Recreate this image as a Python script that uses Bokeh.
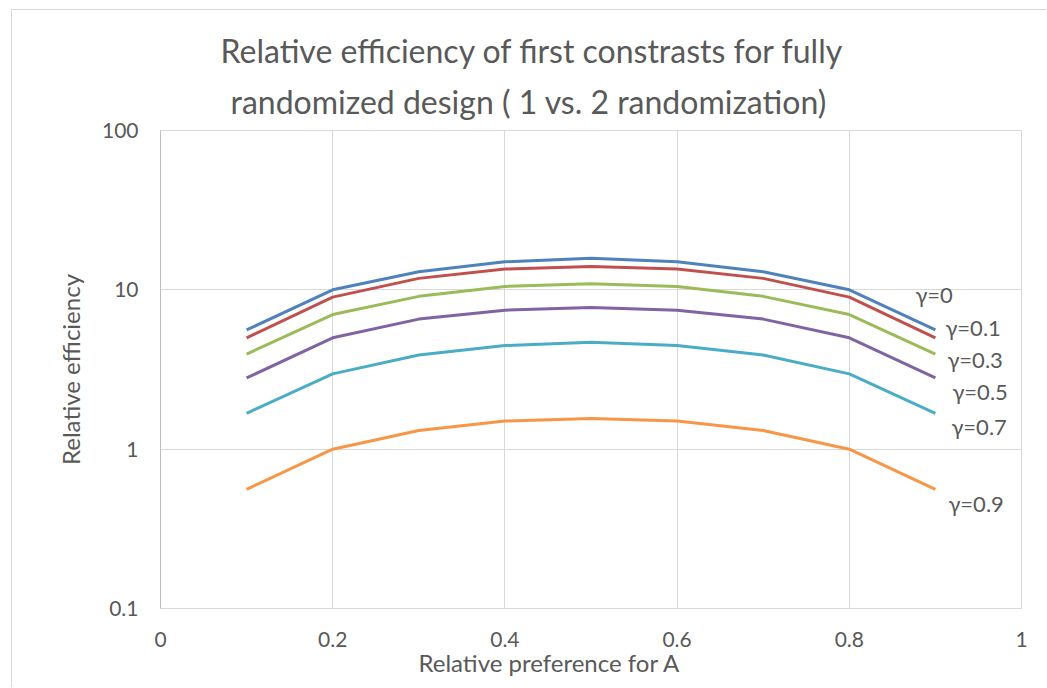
from bokeh.plotting import figure
from bokeh.models import ColumnDataSource, FixedTicker, CustomJSTickFormatter, Title
from bokeh.core.properties import value
from bokeh.embed import file_html
from bokeh.resources import INLINE

# ---- data ----
x_pref = [0.1, 0.2, 0.3, 0.4, 0.5, 0.6, 0.7, 0.8, 0.9]
gamma_labels = ["γ=0", "γ=0.1", "γ=0.3", "γ=0.5", "γ=0.7", "γ=0.9"]
eff_g00 = [5.6, 10.0, 13.0, 15.0, 15.8, 15.0, 13.0, 10.0, 5.6]
eff_g01 = [5.0, 9.0, 11.8, 13.5, 14.0, 13.5, 11.8, 9.0, 5.0]
eff_g03 = [3.95, 7.0, 9.1, 10.5, 10.9, 10.5, 9.1, 7.0, 3.95]
eff_g05 = [2.8, 5.0, 6.55, 7.45, 7.75, 7.45, 6.55, 5.0, 2.8]
eff_g07 = [1.68, 2.97, 3.9, 4.47, 4.69, 4.47, 3.9, 2.97, 1.68]
eff_g09 = [0.56, 1.0, 1.31, 1.5, 1.56, 1.5, 1.31, 1.0, 0.56]
x_ticks = [0, 0.2, 0.4, 0.6, 0.8, 1]
y_ticks = [0.1, 1, 10, 100]
title_lines = ["Relative efficiency of first constrasts for fully",
               "randomized design ( 1 vs. 2 randomization)"]
x_title = "Relative preference for A"
y_title = "Relative efficiency"

series = [eff_g00, eff_g01, eff_g03, eff_g05, eff_g07, eff_g09]

# ---- styles ----
colors = ["#4F81BD", "#C0504D", "#9BBB59", "#8064A2", "#4BACC6", "#F79646"]
label_dx = [-20, 10, 12, 17, 16, 13]
label_dy = [-35, -10, 5, 14, 13, 14]
TEXT = "#595959"
GRID = "#d9d9d9"
FONT = "Lato"

p = figure(width=1035, height=678, x_range=(0, 1), y_range=(0.1, 100),
           y_axis_type="log", output_backend="svg", toolbar_location=None,
           min_border_left=148, min_border_right=26, min_border_top=120,
           min_border_bottom=80)
p.styles = {"margin-left": "11px", "margin-top": "9px",
            "border-left": "1px solid #d9d9d9", "border-top": "1px solid #d9d9d9"}
p.title = None
p.outline_line_color = GRID
p.background_fill_color = "white"
p.border_fill_color = "white"

p.xaxis.ticker = FixedTicker(ticks=x_ticks)
p.yaxis.ticker = FixedTicker(ticks=y_ticks)
p.xaxis.formatter = CustomJSTickFormatter(code="return tick.toString();")
p.yaxis.formatter = CustomJSTickFormatter(code="return tick.toString();")
for ax in (p.xaxis[0], p.yaxis[0]):
    ax.major_tick_in = 0
    ax.major_tick_out = 0
    ax.minor_tick_line_color = None
    ax.major_label_text_font = FONT
    ax.major_label_text_font_size = "21px"
    ax.major_label_text_color = TEXT
p.xaxis.axis_line_color = GRID
p.yaxis.axis_line_color = "#bfbfbf"
p.xaxis.major_label_standoff = 23
p.yaxis.major_label_standoff = 22
p.yaxis.axis_label = y_title
p.yaxis.axis_label_text_font = FONT
p.yaxis.axis_label_text_font_size = "24px"
p.yaxis.axis_label_text_font_style = "normal"
p.yaxis.axis_label_text_color = TEXT
p.yaxis.axis_label_standoff = 14

p.xgrid.ticker = FixedTicker(ticks=[0.2, 0.4, 0.6, 0.8])
p.ygrid.ticker = FixedTicker(ticks=[1, 10])
p.xgrid.grid_line_color = GRID
p.ygrid.grid_line_color = GRID

for ys, c in zip(series, colors):
    src = ColumnDataSource(dict(x=x_pref, y=ys))
    p.line("x", "y", source=src, line_color=c, line_width=3)

lab_src = ColumnDataSource(dict(
    x=[x_pref[-1]] * len(series),
    y=[s[-1] for s in series],
    text=gamma_labels, dx=label_dx, dy=label_dy))
p.text(x="x", y="y", text="text", x_offset="dx", y_offset="dy", source=lab_src,
       text_font=value(FONT), text_font_size="22px", text_color=TEXT,
       text_baseline="middle", text_align="left")

# titles: the first added "above" sits closest to the plot frame
p.add_layout(Title(text=title_lines[1], align="left", offset=70,
                   text_font=FONT, text_font_size="32px",
                   text_font_style="normal", text_color=TEXT, standoff=20), "above")
p.add_layout(Title(text=title_lines[0], align="left", offset=60,
                   text_font=FONT, text_font_size="32px",
                   text_font_style="normal", text_color=TEXT, standoff=0), "above")
p.add_layout(Title(text=x_title, align="left", offset=258,
                   text_font=FONT, text_font_size="24px",
                   text_font_style="normal", text_color=TEXT, standoff=-7), "below")

open("out.html", "w").write(file_html(p, INLINE))
